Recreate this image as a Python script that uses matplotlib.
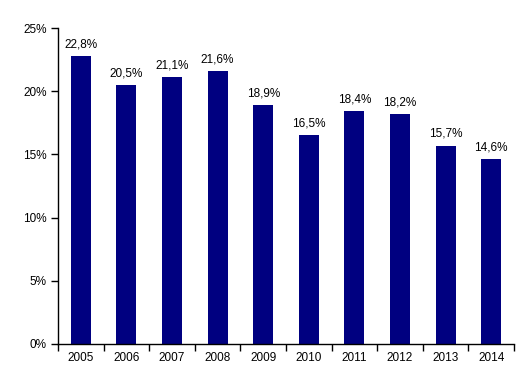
import matplotlib
matplotlib.use("Agg")
import matplotlib.pyplot as plt
from matplotlib.ticker import FixedLocator

years = ["2005", "2006", "2007", "2008", "2009", "2010", "2011", "2012", "2013", "2014"]
values = [22.8, 20.5, 21.1, 21.6, 18.9, 16.5, 18.4, 18.2, 15.7, 14.6]
yticks = [0, 5, 10, 15, 20, 25]

plt.rcParams["font.family"] = ["Liberation Sans", "DejaVu Sans"]

fig = plt.figure(figsize=(5.29, 3.90), dpi=100)
ax = fig.add_axes([0.1096, 0.118, 0.862, 0.810])

x = list(range(len(years)))
bars = ax.bar(x, values, width=0.44, color="#000080")

for xi, v in zip(x, values):
    ax.text(xi, v + 0.45, f"{v:.1f}%".replace(".", ","), ha="center", va="bottom", fontsize=8.5)

ax.set_xlim(-0.5, len(years) - 0.5)
ax.set_ylim(0, 25)
ax.set_yticks(yticks)
ax.set_yticklabels([f"{t}%" for t in yticks], fontsize=8.5)
ax.set_xticks(x)
ax.set_xticklabels(years, fontsize=8.5)
ax.tick_params(axis="x", length=0, pad=6)
ax.xaxis.set_minor_locator(FixedLocator([i - 0.5 for i in range(len(years) + 1)]))
ax.tick_params(axis="x", which="minor", length=5, width=1, direction="out")
ax.tick_params(axis="y", length=5, width=1, direction="out", pad=3)

ax.spines["top"].set_visible(False)
ax.spines["right"].set_visible(False)
ax.spines["left"].set_linewidth(1)
ax.spines["bottom"].set_linewidth(1)

fig.savefig("out.png", dpi=100)
